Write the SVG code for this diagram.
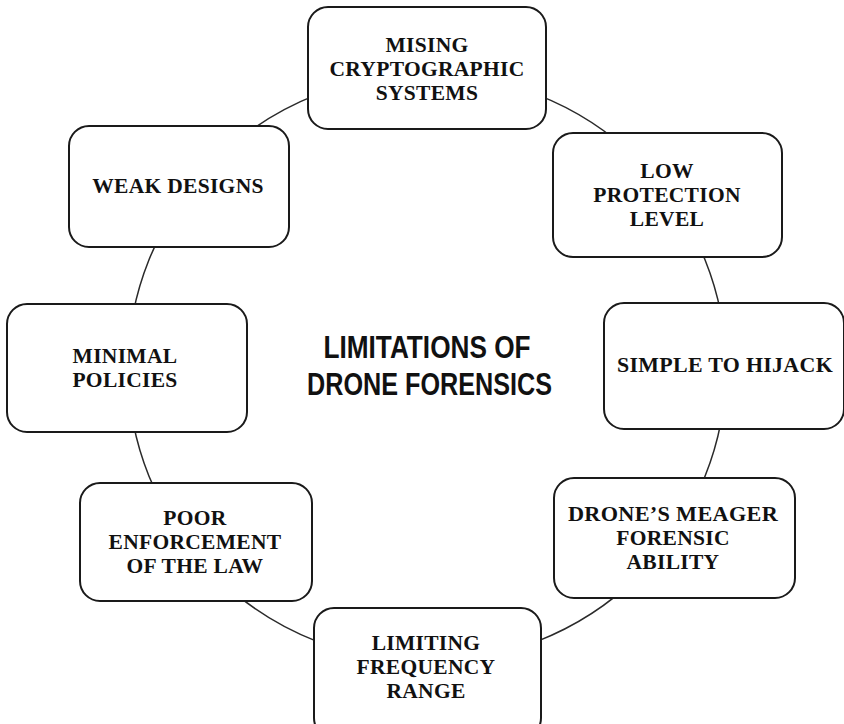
<svg xmlns="http://www.w3.org/2000/svg" width="844" height="724" viewBox="0 0 844 724">
  <style>
    .box { fill: #ffffff; stroke: #1a1a1a; stroke-width: 2; }
    .lbl { font-family: "Liberation Serif", "Times New Roman", serif; font-weight: bold; font-size: 21.5px; letter-spacing: 0.3px; fill: #111; text-anchor: middle; }
    .ring { fill: none; stroke: #2a2a2a; stroke-width: 1.5; }
    .title { font-family: "Liberation Sans", Arial, sans-serif; font-weight: bold; font-size: 32px; fill: #111; text-anchor: middle; }
  </style>
  <rect width="844" height="724" fill="#ffffff"/>

  <!-- ring that links all the nodes -->
  <g id="connectors">
    <ellipse class="ring" cx="427" cy="368" rx="299" ry="294"/>
  </g>

  <g id="center-title">
    <text class="title" x="427" y="358" textLength="207" lengthAdjust="spacingAndGlyphs">LIMITATIONS OF</text>
    <text class="title" x="429.5" y="395" textLength="245" lengthAdjust="spacingAndGlyphs">DRONE FORENSICS</text>
  </g>

  <g id="node-crypto">
    <rect class="box" x="308" y="7" width="238" height="122" rx="20"/>
    <text class="lbl" x="427" y="52">MISING</text>
    <text class="lbl" x="427" y="76">CRYPTOGRAPHIC</text>
    <text class="lbl" x="427" y="100">SYSTEMS</text>
  </g>

  <g id="node-protection">
    <rect class="box" x="553" y="133" width="229" height="124" rx="20"/>
    <text class="lbl" x="667" y="178">LOW</text>
    <text class="lbl" x="667" y="202">PROTECTION</text>
    <text class="lbl" x="667" y="226">LEVEL</text>
  </g>

  <g id="node-hijack">
    <rect class="box" x="604" y="303" width="240" height="126" rx="20"/>
    <text class="lbl" x="725" y="372" textLength="216" lengthAdjust="spacingAndGlyphs">SIMPLE TO HIJACK</text>
  </g>

  <g id="node-forensic-ability">
    <rect class="box" x="554" y="478" width="241" height="120" rx="20"/>
    <text class="lbl" x="673" y="521" textLength="210" lengthAdjust="spacingAndGlyphs">DRONE’S MEAGER</text>
    <text class="lbl" x="673" y="545">FORENSIC</text>
    <text class="lbl" x="673" y="569">ABILITY</text>
  </g>

  <g id="node-frequency">
    <rect class="box" x="314" y="608" width="227" height="130" rx="20"/>
    <text class="lbl" x="426" y="650">LIMITING</text>
    <text class="lbl" x="426" y="674">FREQUENCY</text>
    <text class="lbl" x="426" y="698">RANGE</text>
  </g>

  <g id="node-enforcement">
    <rect class="box" x="80" y="483" width="232" height="118" rx="20"/>
    <text class="lbl" x="195" y="525">POOR</text>
    <text class="lbl" x="195" y="549">ENFORCEMENT</text>
    <text class="lbl" x="195" y="573">OF THE LAW</text>
  </g>

  <g id="node-policies">
    <rect class="box" x="7" y="304" width="240" height="128" rx="20"/>
    <text class="lbl" x="125" y="363">MINIMAL</text>
    <text class="lbl" x="125" y="387">POLICIES</text>
  </g>

  <g id="node-designs">
    <rect class="box" x="69" y="126" width="220" height="121" rx="20"/>
    <text class="lbl" x="178" y="193">WEAK DESIGNS</text>
  </g>
</svg>
